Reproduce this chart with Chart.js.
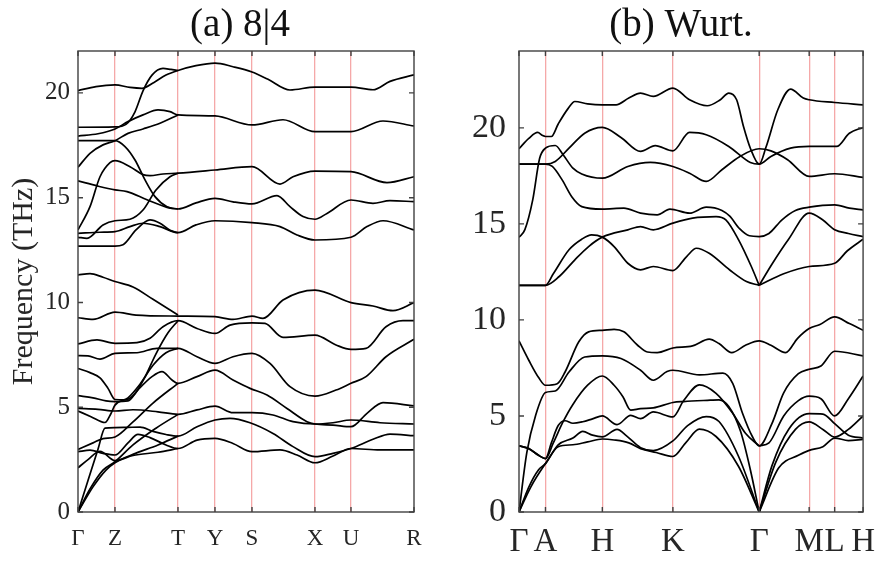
<!DOCTYPE html>
<html>
<head>
<meta charset="utf-8">
<script src="https://cdn.jsdelivr.net/npm/chart.js@4.4.1/dist/chart.umd.min.js"></script>
<style>
  html,body{margin:0;padding:0;background:#fff;}
  #wrap{position:relative;width:886px;height:564px;overflow:hidden;}
  canvas{position:absolute;top:0;}
  #ca{left:0;} #cb{left:443px;}
</style>
</head>
<body>
<div id="wrap">
<canvas id="ca" width="443" height="564"></canvas>
<canvas id="cb" width="443" height="564"></canvas>
</div>
<script>
// ---------- (a) 8|4 ----------
const kPathA = [0, 37, 100, 137, 174, 237, 273, 336];
const kLabelsA = ['Γ', 'Z', 'T', 'Y', 'S', 'X', 'U', 'R'];
const yTicksA = [0, 5, 10, 15, 20];

const a_U1 = [[0,20.11],[18,20.3],[37,20.38],[52,20.26],[64,20.22],[76,20.5],[88,20.85],[100,21.07],[118,21.3],[137,21.42],[155,21.25],[174,21.0],[190,20.65],[212,20.14],[237,20.28],[273,20.28],[295,20.15],[312,20.55],[336,20.86]];
const a_U2 = [[0,18.36],[37,18.38],[48,18.5],[57,19.1],[65,20.1],[74,20.85],[85,21.17],[93,21.12],[100,21.07]];
const a_U3 = [[0,17.94],[20,18.05],[37,18.28],[50,18.63],[65,18.95],[80,19.19],[92,19.11],[100,18.95],[137,18.9],[174,18.47],[205,18.72],[237,18.15],[273,18.15],[305,18.66],[336,18.42]];
const a_U4 = [[0,17.72],[37,17.72],[47,17.44],[57,16.8],[67,15.85],[77,15.05],[89,14.57],[100,14.46],[118,14.75],[137,14.97],[155,14.8],[174,14.7],[199,15.1],[212,14.57],[225,14.1],[237,13.97],[249,14.25],[273,14.89],[295,14.73],[312,14.86],[336,14.81]];
const a_U5 = [[0,16.45],[12,17.12],[25,17.52],[37,17.72],[50,18.07],[65,18.28],[82,18.55],[100,18.95]];
const a_U6 = [[0,13.46],[12,14.57],[22,16.0],[32,16.67],[37,16.77],[52,16.48],[65,16.1],[72,16.05],[85,16.13],[100,16.17],[137,16.32],[174,16.48],[202,15.65],[215,16.0],[237,16.27],[273,16.24],[309,15.72],[336,16.0]];
const a_U7 = [[0,15.8],[20,15.55],[37,15.37],[49,15.29],[69,14.9],[89,14.54],[100,14.46]];
const a_U8 = [[0,13.11],[9,13.06],[25,13.7],[37,13.9],[52,13.97],[65,14.41],[78,15.37],[92,16.0],[100,16.17]];
const a_U9 = [[0,13.3],[22,13.35],[37,13.38],[52,13.62],[65,13.78],[82,13.62],[100,13.33],[118,13.7],[137,13.9],[174,13.81],[202,13.62],[219,13.22],[237,12.98],[273,13.11],[289,13.62],[305,13.9],[336,13.46]];
const a_U10 = [[0,12.69],[37,12.69],[45,12.75],[58,13.46],[72,13.94],[82,13.78],[92,13.45],[100,13.33]];
const a_L1 = [[0,11.31],[12,11.38],[25,11.2],[37,11.0],[55,10.74],[75,10.15],[100,9.4]];
const a_L2 = [[0,9.27],[15,9.19],[37,9.54],[58,9.4],[100,9.35],[137,9.32],[155,9.19],[174,9.35],[185,9.24],[205,10.12],[237,10.59],[273,9.99],[295,9.83],[315,9.61],[336,9.99]];
const a_L3 = [[0,8.02],[19,8.21],[37,8.05],[59,8.08],[72,8.29],[85,8.84],[100,9.13],[119,8.76],[137,8.52],[152,8.92],[174,9.03],[187,9.0],[205,8.33],[237,8.44],[258,7.97],[273,7.76],[288,7.81],[308,8.84],[325,9.13],[336,9.13]];
const a_L4 = [[0,7.46],[10,7.45],[22,7.3],[37,7.57],[59,7.6],[79,7.81],[100,7.81],[119,7.41],[137,7.09],[155,7.41],[174,7.57],[192,7.09],[212,5.98],[237,5.53],[258,5.82],[273,6.14],[288,6.46],[308,7.41],[336,8.24]];
const a_L5 = [[0,6.85],[12,6.65],[22,6.4],[30,5.9],[37,5.37],[47,5.35],[57,5.65],[66,6.35],[78,7.55],[90,8.55],[100,9.13]];
const a_L6 = [[0,5.55],[15,5.45],[28,5.3],[37,5.27],[50,5.3],[60,5.83],[74,6.46],[84,6.7],[94,6.3],[100,6.14],[119,6.46],[137,6.77],[155,6.3],[172,5.9],[189,5.58],[209,4.94],[229,4.31],[237,4.2],[255,4.15],[273,4.07],[289,4.71],[305,5.22],[336,5.06]];
const a_L7 = [[0,4.82],[13,4.55],[27,4.27],[33,4.7],[37,5.1],[50,5.45],[62,6.1],[75,7.0],[88,7.6],[100,7.81]];
const a_L8 = [[0,0],[10,1.5],[20,3.0],[27,4.0],[37,4.03],[50,4.04],[62,4.05],[75,3.85],[88,3.7],[100,3.62],[119,4.07],[137,4.39],[152,4.47],[172,4.26],[195,3.75],[215,3.12],[237,2.64],[255,2.8],[273,3.03],[295,3.47],[312,3.72],[336,3.64]];
const a_L9 = [[0,4.94],[20,4.9],[37,4.82],[55,4.88],[80,4.78],[100,4.66],[119,4.87],[137,5.05],[155,4.74],[174,4.74],[195,4.63],[215,4.31],[237,4.2],[255,4.26],[273,4.39],[302,4.26],[336,4.2]];
const a_L10 = [[0,2.99],[15,3.3],[25,3.5],[37,3.58],[55,4.3],[75,5.2],[100,6.14]];
const a_L11 = [[0,2.88],[12,2.95],[25,2.8],[37,2.72],[50,3.3],[60,3.7],[72,3.55],[88,3.2],[100,3.03],[119,3.43],[137,3.51],[155,3.27],[174,2.88],[202,2.96],[219,2.72],[237,2.35],[255,2.67],[273,3.03],[302,2.96],[336,2.96]];
const a_L12 = [[0,2.11],[10,2.5],[22,2.9],[37,2.45],[55,2.7],[80,2.85],[100,3.03]];
const a_L13 = [[0,0],[12,1.1],[25,2.0],[37,2.4],[55,3.2],[78,4.0],[100,4.66]];
const a_L14 = [[0,0],[15,1.2],[28,2.0],[37,2.35],[55,2.75],[80,3.2],[100,3.62]];

// ---------- (b) Wurt. ----------
const kPathB = [0, 27, 85, 157, 245, 296, 322, 351];
const kLabelsB = ['Γ', 'A', 'H', 'K', 'Γ', 'M', 'L', 'H'];
const yTicksB = [0, 5, 10, 15, 20];

const b_R1 = [[0,18.91],[10,19.45],[19,19.76],[24,19.6],[27,19.55],[33,19.55],[40,20.2],[50,21.0],[57,21.37],[70,21.25],[85,21.2],[99,21.2],[112,21.55],[124,21.81],[137,21.64],[157,22.07],[174,21.46],[192,21.15],[205,21.45],[214,21.81],[222,21.46],[229,20.07],[236,18.94],[245,18.11],[252,19.0],[264,20.94],[277,22.02],[290,21.55],[296,21.46],[322,21.32],[351,21.2]];
const b_R2 = [[0,18.11],[27,18.11],[37,18.25],[51,18.94],[67,19.72],[85,20.02],[104,19.5],[124,18.77],[139,19.07],[157,18.8],[174,19.76],[191,19.64],[214,19.03],[236,18.2],[245,18.11],[257,18.51],[277,18.94],[296,19.03],[324,19.03],[337,19.72],[351,20.02]];
const b_R3 = [[0,18.11],[27,18.11],[34,17.99],[44,17.29],[54,16.4],[64,15.9],[85,15.77],[107,15.82],[124,15.56],[141,15.47],[154,15.77],[174,15.56],[191,15.87],[207,15.7],[215,15.4],[225,14.75],[235,14.38],[245,14.34],[255,14.5],[268,15.2],[282,15.7],[296,15.87],[322,15.99],[337,15.82],[351,15.73]];
const b_R4 = [[0,14.3],[6,14.7],[14,16.25],[21,18.4],[27,18.94],[37,19.08],[45,18.6],[55,17.9],[64,17.6],[85,17.38],[111,17.99],[134,18.2],[157,17.99],[174,17.64],[191,17.21],[207,17.82],[225,18.5],[245,18.91],[257,18.8],[274,18.34],[296,17.47],[322,17.61],[351,17.42]];
const b_R5 = [[0,11.8],[27,11.8],[41,12.26],[57,13.13],[71,13.82],[85,14.31],[111,14.69],[124,14.86],[137,14.69],[157,15.04],[177,15.3],[201,15.38],[211,15.21],[224,14.17],[237,12.78],[245,11.8]];
const b_R6 = [[0,11.8],[27,11.8],[35,12.4],[51,13.65],[64,14.2],[74,14.43],[85,14.31],[97,13.82],[111,12.95],[124,12.61],[137,12.78],[157,12.57],[171,13.3],[181,13.73],[194,13.47],[215,12.6],[232,12.0],[245,11.8]];
const b_R7 = [[245,11.8],[258,12.9],[275,14.2],[296,15.56],[310,15.2],[322,14.7],[336,14.5],[351,14.34]];
const b_R8 = [[245,11.8],[270,12.4],[296,12.78],[322,12.95],[335,13.6],[351,14.2]];
const b_Q1 = [[0,8.91],[10,7.9],[20,7.0],[27,6.6],[39,6.68],[47,7.29],[61,8.86],[71,9.38],[85,9.46],[97,9.51],[107,9.38],[121,8.68],[131,8.33],[141,8.3],[157,8.54],[177,8.65],[194,9.0],[204,8.77],[217,8.3],[231,8.68],[245,8.91],[257,8.68],[272,8.3],[284,9.03],[296,9.55],[307,9.76],[322,10.16],[337,9.81],[351,9.46]];
const b_Q2 = [[0,0],[8,3.1],[17,5.04],[27,6.22],[37,6.3],[51,7.29],[67,8.07],[85,8.13],[104,7.99],[124,7.38],[137,6.86],[151,7.31],[157,7.38],[184,7.14],[208,7.23],[218,6.7],[228,5.14],[238,3.93],[245,3.44],[258,4.6],[270,6.2],[285,7.2],[296,7.43],[308,7.6],[322,8.37],[351,8.13]];
const b_S1 = [[0,3.44],[10,3.3],[20,2.95],[27,2.78],[35,3.6],[45,4.7],[55,5.6],[70,6.6],[85,7.08],[97,6.6],[106,6.0],[114,5.3],[124,5.38],[137,5.42],[157,5.7],[168,5.75],[195,5.82],[204,5.84],[214,5.49],[226,4.2],[236,2.2],[245,0]];
const b_S2 = [[0,3.44],[10,3.3],[20,2.95],[27,2.78],[33,3.6],[40,4.5],[47,4.75],[55,4.62],[65,4.7],[75,4.85],[85,5.0],[100,4.55],[114,5.03],[124,4.86],[137,5.21],[157,4.95],[168,5.8],[184,6.62],[201,6.18],[218,5.14],[231,4.1],[245,3.44]];
const b_T1 = [[0,0],[10,1.3],[20,2.2],[27,2.52],[40,3.5],[55,3.85],[65,4.2],[75,4.0],[85,3.91],[100,4.3],[110,3.95],[124,3.35],[137,3.2],[157,3.7],[172,4.5],[191,4.97],[204,4.71],[224,2.89],[245,0]];
const b_T2 = [[0,0],[12,1.3],[27,2.52],[40,3.4],[55,3.5],[70,3.65],[85,3.8],[97,3.75],[112,3.6],[124,3.3],[140,3.1],[157,2.89],[170,3.6],[184,4.31],[201,3.93],[224,2.37],[245,0]];
const b_P2 = [[245,3.44],[255,3.6],[270,5.0],[285,5.8],[296,6.03],[308,5.9],[322,5.0],[336,5.9],[351,7.08]];
const b_P3 = [[245,0],[258,2.4],[275,4.3],[296,5.12],[310,5.1],[322,4.6],[336,4.0],[351,3.85]];
const b_P4 = [[245,0],[262,2.6],[282,4.3],[296,4.69],[310,4.3],[322,3.9],[336,4.3],[351,5.0]];
const b_P5 = [[245,0],[265,2.3],[285,2.95],[296,3.21],[310,3.4],[322,3.85],[336,3.72],[351,3.78]];

const bandsA = [a_U1,a_U2,a_U3,a_U4,a_U5,a_U6,a_U7,a_U8,a_U9,a_U10,a_L1,a_L2,a_L3,a_L4,a_L5,a_L6,a_L7,a_L8,a_L9,a_L10,a_L11,a_L12,a_L13,a_L14];
const bandsB = [b_R1,b_R2,b_R3,b_R4,b_R5,b_R6,b_R7,b_R8,b_Q1,b_Q2,b_S1,b_S2,b_T1,b_T2,b_P2,b_P3,b_P4,b_P5];

const SERIF = "'Liberation Serif', 'Times New Roman', serif";
const TXT = '#262626';

const framePlugin = {
  id: 'frame',
  afterDatasetsDraw(chart) {
    const {ctx, chartArea: {left, top, right, bottom}, scales: {x, y}} = chart;
    ctx.save();
    ctx.strokeStyle = '#404040';
    ctx.lineWidth = 1.4;
    ctx.beginPath();
    const tl = 5;
    y.ticks.forEach(t => {
      const py = y.getPixelForValue(t.value);
      ctx.moveTo(left, py); ctx.lineTo(left + tl, py);
      ctx.moveTo(right, py); ctx.lineTo(right - tl, py);
    });
    x.ticks.forEach(t => {
      const px = x.getPixelForValue(t.value);
      ctx.moveTo(px, top); ctx.lineTo(px, top + tl);
      ctx.moveTo(px, bottom); ctx.lineTo(px, bottom - tl);
    });
    ctx.stroke();
    ctx.strokeRect(left, top, right - left, bottom - top);
    ctx.restore();
  }
};

const panelTitlePlugin = {
  id: 'panelTitle',
  afterDraw(chart, args, opts) {
    const {ctx, chartArea} = chart;
    ctx.save();
    ctx.font = opts.size + 'px ' + SERIF;
    ctx.fillStyle = '#111';
    ctx.textAlign = 'center';
    ctx.textBaseline = 'middle';
    ctx.fillText(opts.text, (chartArea.left + chartArea.right) / 2 + opts.dx, opts.y);
    ctx.restore();
  }
};

function makeChart(id, o) {
  const datasets = o.bands.map(b => ({
    data: b.map(p => ({x: p[0], y: p[1]})),
    borderColor: '#000',
    borderWidth: 1.7,
    pointRadius: 0,
    fill: false,
    cubicInterpolationMode: 'monotone'
  }));
  return new Chart(document.getElementById(id), {
    type: 'line',
    data: {datasets},
    plugins: [framePlugin, panelTitlePlugin],
    options: {
      responsive: false,
      animation: false,
      devicePixelRatio: 1,
      layout: {padding: {left: 0, right: o.padRight, top: 51, bottom: 0}},
      plugins: {
        legend: {display: false},
        tooltip: {enabled: false},
        title: {display: false},
        panelTitle: {text: o.title, size: 39, dx: o.titleDx, y: 26}
      },
      scales: {
        x: {
          type: 'linear', min: o.kPath[0], max: o.kPath[o.kPath.length - 1],
          afterBuildTicks: s => { s.ticks = o.kPath.map(v => ({value: v})); },
          afterFit: s => { s.height = 52; },
          ticks: {
            autoSkip: false, maxRotation: 0, minRotation: 0,
            padding: o.xPad, color: TXT,
            font: {family: SERIF, size: o.xFont},
            callback: (v, i) => o.kLabels[i]
          },
          grid: {
            drawTicks: false, lineWidth: 1.3,
            color: c => (c.index === 0 || c.index === o.kPath.length - 1) ? 'rgba(0,0,0,0)' : '#f5a8a8'
          },
          border: {display: false}
        },
        y: {
          type: 'linear', min: 0, max: o.yMax,
          afterBuildTicks: s => { s.ticks = o.yTicks.map(v => ({value: v})); },
          afterFit: s => { s.width = o.yWidth; },
          ticks: {padding: o.yPad, color: TXT, font: {family: SERIF, size: o.yFont}},
          grid: {display: false, drawTicks: false},
          border: {display: false},
          title: o.yTitle ? {display: true, text: o.yTitle, color: TXT,
                  font: {family: SERIF, size: 30}, padding: {top: 6, bottom: 0}} : {display: false}
        }
      }
    }
  });
}

makeChart('ca', {bands: bandsA, kPath: kPathA, kLabels: kLabelsA, yTicks: yTicksA, yMax: 22,
  title: '(a) 8|4', titleDx: -6, padRight: 29, yWidth: 78, xFont: 23, xPad: 13, yFont: 25, yPad: 8,
  yTitle: 'Frequency (THz)'});
makeChart('cb', {bands: bandsB, kPath: kPathB, kLabels: kLabelsB, yTicks: yTicksB, yMax: 24,
  title: '(b) Wurt.', titleDx: -10, padRight: 16, yWidth: 76, xFont: 33, xPad: 11, yFont: 34, yPad: 13,
  yTitle: null});
</script>
</body>
</html>
